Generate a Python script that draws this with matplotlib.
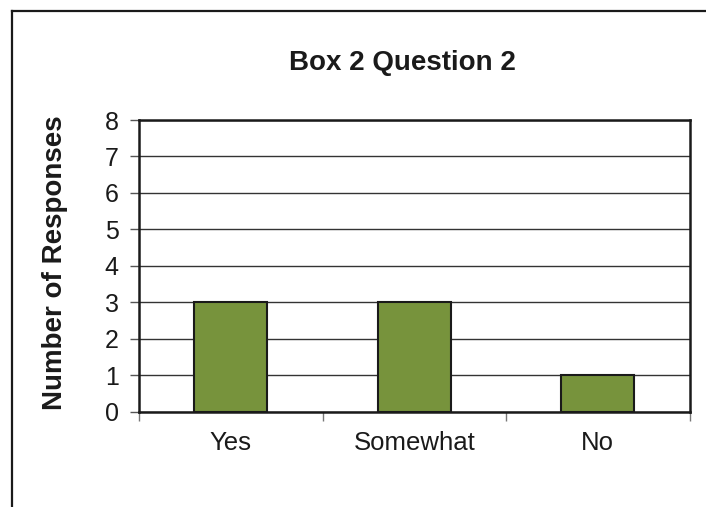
import matplotlib
matplotlib.use("Agg")
import matplotlib.pyplot as plt
from matplotlib.lines import Line2D

# chart data
categories = ["Yes", "Somewhat", "No"]
responses = [3, 3, 1]
y_ticks = [0, 1, 2, 3, 4, 5, 6, 7, 8]

plt.rcParams['font.family'] = ['Liberation Sans', 'DejaVu Sans']

W, H = 706, 507
fig = plt.figure(figsize=(W / 100, H / 100), dpi=100)
ax = fig.add_axes([139 / W, 1 - 411.5 / H, (689.5 - 139) / W, (411.5 - 120) / H])

x = range(len(categories))
ax.bar(x, responses, width=0.4, color="#77933C", edgecolor="#1a1a1a", linewidth=1.5, zorder=3)

ax.set_xlim(-0.5, len(categories) - 0.5)
ax.set_ylim(0, 8)
ax.set_yticks(y_ticks)
ax.set_yticklabels([str(v) for v in y_ticks], fontsize=18, color="#1a1a1a")
ax.tick_params(axis="y", length=6.5, width=1, color="#555555", pad=8)

# category labels centered, tick marks on the category boundaries
ax.set_xticks([i - 0.5 for i in range(len(categories) + 1)])
ax.set_xticklabels([])
ax.set_xticks(list(x), minor=True)
ax.set_xticklabels(categories, minor=True, fontsize=18.5, color="#1a1a1a")
ax.tick_params(axis="x", which="major", length=6.5, width=1, color="#777777")
ax.tick_params(axis="x", which="minor", length=0, pad=14)

ax.yaxis.grid(True, color="#333333", linewidth=1, zorder=0)
ax.set_axisbelow(True)
for s in ax.spines.values():
    s.set_linewidth(1.8)
    s.set_color("#1a1a1a")

# axis title and chart title placed in figure coordinates
fig.text(55 / W, 1 - 263 / H, "Number of Responses", rotation=90, fontsize=20, fontweight="bold",
         color="#1a1a1a", ha="center", va="center")
fig.text(402 / W, 1 - 63 / H, "Box 2 Question 2", fontsize=20, fontweight="bold",
         color="#1a1a1a", ha="center", va="center")

# outer chart frame (cropped at right and bottom)
fig.add_artist(Line2D([12 / W, 1], [1 - 11 / H, 1 - 11 / H], color="#1a1a1a", linewidth=1.6,
                      transform=fig.transFigure))
fig.add_artist(Line2D([12 / W, 12 / W], [0, 1 - 11 / H], color="#1a1a1a", linewidth=1.6,
                      transform=fig.transFigure))

fig.savefig("out.png", dpi=100)
